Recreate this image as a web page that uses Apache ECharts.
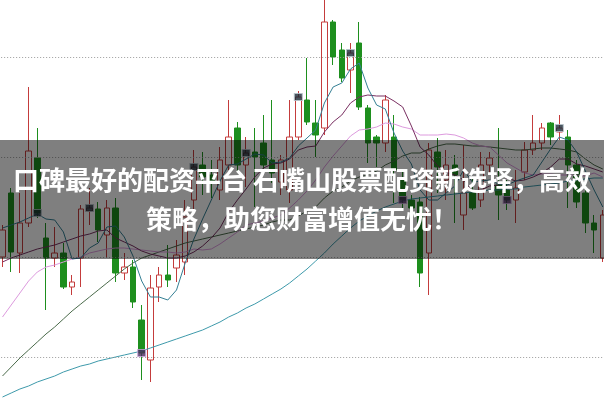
<!DOCTYPE html>
<html><head><meta charset="utf-8">
<script src="https://cdn.jsdelivr.net/npm/echarts@6/dist/echarts.min.js"></script>
<style>html,body{margin:0;padding:0;background:#fff;overflow:hidden}#c{width:604px;height:401px}</style>
</head><body><div id="c"></div>
<script>
const openP=[11.00,11.64,11.04,11.34,11.99,11.19,10.99,11.04,10.70,10.99,
11.46,11.48,11.22,11.49,10.84,10.90,10.37,9.97,10.70,10.82,
10.89,10.95,11.57,11.92,11.82,11.67,11.92,12.29,11.92,12.05,
12.14,11.97,11.75,11.67,12.20,12.57,12.34,12.29,13.35,13.07,
12.87,13.14,12.49,12.20,12.14,12.20,11.77,11.57,11.55,11.04,
12.05,11.77,11.92,11.42,11.65,11.57,11.92,11.72,11.67,11.57,
11.85,12.07,12.14,12.34,12.25,12.20,11.92,11.64,11.34,10.99];
const closeP=[11.27,11.05,11.34,12.06,11.44,10.99,11.04,10.70,10.75,11.48,
11.49,11.27,11.49,10.84,10.90,10.55,10.04,10.69,10.82,10.77,
11.02,11.40,11.90,11.80,11.75,11.97,12.20,11.92,12.04,12.00,
11.92,11.84,11.97,12.20,12.60,12.35,12.22,13.35,13.00,12.79,
13.04,12.50,12.14,12.14,12.57,11.87,11.57,11.49,10.84,12.07,
11.90,11.92,11.82,11.64,11.49,11.92,11.99,11.62,11.57,11.69,
12.07,12.14,12.29,12.20,12.29,11.92,11.55,11.34,11.27,11.42];
const lowP=[10.90,10.85,10.84,11.30,11.39,10.47,10.90,10.68,10.62,10.70,
11.32,11.15,10.99,10.75,10.77,10.49,9.77,9.75,10.55,10.70,
10.75,10.82,11.47,11.62,11.59,11.57,11.87,11.85,11.70,11.50,
11.84,11.74,11.62,11.54,12.17,12.32,12.00,12.22,12.92,12.75,
12.64,12.47,11.94,11.90,12.05,11.54,11.47,11.45,10.70,10.62,
11.64,11.57,11.34,11.27,11.47,11.50,11.82,11.37,11.47,11.34,
11.77,12.02,12.07,12.12,12.17,11.49,11.49,11.24,11.04,10.95];
const highP=[11.32,11.69,11.64,12.70,12.29,11.34,11.30,11.14,10.82,11.52,
11.69,11.55,11.57,11.59,11.04,10.97,10.52,10.82,10.90,11.12,
11.17,11.57,12.07,12.05,11.97,12.10,12.57,12.35,12.20,12.29,
12.42,12.57,12.02,12.57,12.66,12.99,12.57,13.62,13.37,13.14,
13.14,13.35,12.52,12.22,12.62,12.42,11.87,11.62,11.60,12.14,
12.19,12.07,12.02,12.12,11.79,12.05,12.05,12.29,11.77,11.87,
12.15,12.42,12.34,12.35,12.42,12.27,11.97,11.72,11.42,11.47];
const ma5=[11.29,11.32,11.35,11.39,11.43,11.38,11.37,11.25,10.98,10.99,
11.09,11.14,11.30,11.31,11.20,11.01,10.76,10.60,10.60,10.57,
10.67,10.94,11.18,11.38,11.57,11.76,11.92,11.93,11.98,12.03,
12.02,11.94,11.95,11.99,12.11,12.19,12.27,12.54,12.70,12.74,
12.88,12.94,12.69,12.52,12.48,12.24,12.06,11.93,11.67,11.57,
11.57,11.64,11.71,11.87,11.75,11.76,11.77,11.73,11.72,11.76,
11.79,11.82,11.95,12.08,12.20,12.17,12.05,11.86,11.67,11.50];
const ma10=[10.95,10.99,11.02,11.05,11.08,11.10,11.12,11.15,11.18,11.21,
11.23,11.26,11.27,11.19,11.15,11.11,11.06,11.03,11.01,10.99,
10.99,11.01,11.05,11.11,11.19,11.29,11.45,11.57,11.68,11.80,
11.89,11.93,11.94,11.98,12.07,12.10,12.11,12.25,12.35,12.42,
12.54,12.60,12.62,12.61,12.61,12.56,12.50,12.31,12.10,12.02,
11.91,11.85,11.82,11.77,11.66,11.67,11.71,11.72,11.79,11.76,
11.77,11.80,11.84,11.90,11.98,11.98,11.93,11.91,11.88,11.85];
const ma20=[10.40,10.52,10.64,10.76,10.85,10.90,10.92,10.95,10.98,11.00,
11.04,11.06,11.08,11.09,11.09,11.08,11.07,11.06,11.05,11.05,
11.04,11.05,11.08,11.07,11.08,11.13,11.19,11.25,11.32,11.34,
11.36,11.39,11.42,11.49,11.57,11.66,11.77,11.90,12.01,12.11,
12.21,12.27,12.28,12.30,12.34,12.33,12.30,12.28,12.22,12.22,
12.22,12.23,12.22,12.19,12.14,12.11,12.10,12.02,11.94,11.89,
11.84,11.82,11.83,11.83,11.82,11.82,11.82,11.81,11.84,11.80];
const ma30=[9.81,9.90,9.99,10.07,10.15,10.23,10.30,10.38,10.46,10.53,
10.60,10.67,10.74,10.81,10.88,10.94,10.99,11.02,11.05,11.08,
11.11,11.14,11.16,11.18,11.20,11.22,11.24,11.26,11.28,11.30,
11.32,11.35,11.37,11.37,11.41,11.46,11.50,11.59,11.66,11.70,
11.76,11.80,11.82,11.86,11.92,11.96,12.01,12.04,12.04,12.08,
12.11,12.13,12.13,12.12,12.11,12.11,12.10,12.09,12.08,12.07,
12.07,12.08,12.09,12.09,12.08,12.07,12.05,11.98,11.92,11.88];
const ma60=[9.60,9.64,9.68,9.71,9.75,9.78,9.81,9.85,9.88,9.91,
9.93,9.96,9.98,10.00,10.02,10.04,10.06,10.09,10.12,10.15,
10.18,10.21,10.24,10.27,10.31,10.35,10.40,10.44,10.49,10.53,
10.58,10.63,10.68,10.74,10.81,10.88,10.96,11.04,11.13,11.21,
11.29,11.36,11.41,11.46,11.50,11.53,11.56,11.58,11.59,11.60,
11.61,11.62,11.63,11.64,11.65,11.66,11.67,11.67,11.68,11.68,
11.70,11.71,11.72,11.73,11.74,11.76,11.77,11.78,11.79,11.79];
const gridLevels=[10,11,12,13];
const darkMarks=[4,10,22,28,34,40,64];
const purpleMarks=[16,46,58];
const bannerLines=['口碑最好的配资平台 石嘴山股票配资新选择，高效','策略，助您财富增值无忧！'];

const categories=openP.map((_,i)=>'D'+(i+1));
const ohlc=openP.map((o,i)=>[o,closeP[i],lowP[i],highP[i]]);
const marks=idx=>idx.map(i=>[categories[i],closeP[i]]);

const chart=echarts.init(document.getElementById('c'),null,{renderer:'canvas'});
const line=(name,data,color)=>({name,type:'line',data,symbol:'none',smooth:false,
  lineStyle:{width:1,color},itemStyle:{color},z:3,silent:true});
chart.setOption({
  animation:false,
  backgroundColor:'#ffffff',
  grid:{left:-1.85,right:-3.15,top:0,bottom:0,containLabel:false,outerBoundsMode:'none'},
  xAxis:{type:'category',data:categories,boundaryGap:true,show:false},
  yAxis:{type:'value',min:9.56,max:13.57,show:false,splitLine:{show:false}},
  series:[
    {type:'line',data:[],z:1,silent:true,
      markLine:{silent:true,symbol:'none',label:{show:false},animation:false,
        lineStyle:{color:'#9c9c9c',width:1,type:[1,2]},
        data:gridLevels.map(v=>({yAxis:v}))}},
    {type:'candlestick',data:ohlc,barWidth:6,z:2,clip:false,
      itemStyle:{color:'#ffffff',color0:'#1e8f1e',borderColor:'#c43c3c',borderColor0:'#1e8f1e',borderWidth:1}},
    line('MA60',ma60,'#3e9aab'),
    line('MA30',ma30,'#4b6b4b'),
    line('MA20',ma20,'#dd9ade'),
    line('MA10',ma10,'#7a3062'),
    line('MA5',ma5,'#347f94'),
    {type:'scatter',data:marks(darkMarks),symbol:'rect',symbolSize:[8,7],z:4,
      itemStyle:{color:'#1c2a36',borderColor:'#b8c4cc',borderWidth:1}},
    {type:'scatter',data:marks(purpleMarks),symbol:'rect',symbolSize:[8,7],z:4,
      itemStyle:{color:'#4a2a5c',borderColor:'#c9a6dc',borderWidth:1}}
  ],
  graphic:[
    {type:'rect',z:100,shape:{x:0,y:140,width:604,height:119},style:{fill:'rgba(0,0,0,0.5)'}},
    {type:'text',z:101,x:302,y:200,style:{text:bannerLines.join('\n'),fill:'#ffffff',
      font:'bold 26px "Noto Sans CJK SC", sans-serif',align:'center',verticalAlign:'middle',lineHeight:39}}
  ]
});
</script></body></html>
